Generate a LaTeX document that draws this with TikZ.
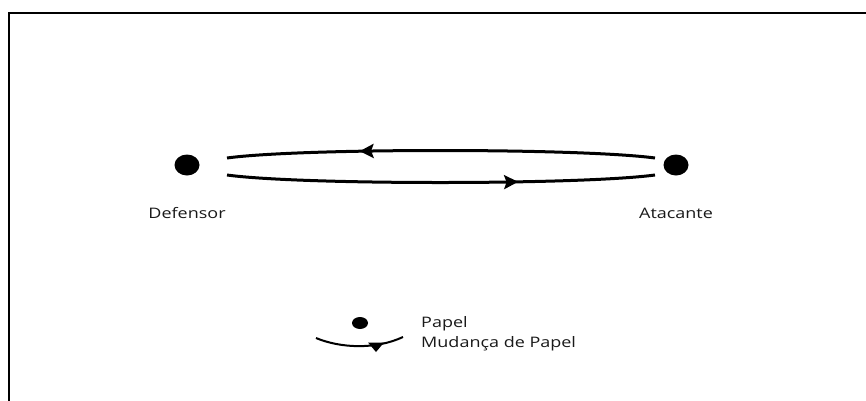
\documentclass[tikz,border=0pt]{standalone}
\usepackage{fontspec}
\setmainfont{Open Sans}[FakeStretch=1.24]
\usetikzlibrary{arrows.meta,decorations.markings,shapes.geometric}
\tikzset{
  role/.style={ellipse,fill=black,inner sep=0pt,minimum width=25pt,minimum height=21pt},
  smallrole/.style={ellipse,fill=black,inner sep=0pt,minimum width=16pt,minimum height=12pt},
  lbl/.style={font=\fontsize{14.5}{16}\selectfont,inner sep=0pt,text=black!90},
  path/.style={line width=3pt,black},
  midarrow/.style={postaction={decorate},decoration={markings,
     mark=at position #1 with {\arrow{Stealth[length=14pt,width=14pt,inset=2.5pt]}}}},
  frame/.style={line width=2.6pt,black}
}
\begin{document}
\begin{tikzpicture}[x=1pt,y=-1pt]
\useasboundingbox (0,0) rectangle (866,400);
\draw[frame] (9,401) -- (9,13) -- (867,13);
% roles
\node[role] (def) at (187,165) {};
\node[role] (atk) at (676,165) {};
\node[lbl,anchor=center] (deflbl) at (187,213) {Defensor};
\node[lbl,anchor=center] (atklbl) at (676,213) {Atacante};
% connectors
\coordinate (atkT) at ([xshift=-21pt,yshift=7pt]atk.center);
\coordinate (defT) at ([xshift=40pt,yshift=7pt]def.center);
\coordinate (defB) at ([xshift=40pt,yshift=-10pt]def.center);
\coordinate (atkB) at ([xshift=-21pt,yshift=-10pt]atk.center);
\draw[path,midarrow=0.69] (atkT) .. controls (580,148) and (300,148) .. (defT);
\draw[path,midarrow=0.68] (defB) .. controls (300,185) and (580,185) .. (atkB);
% legend
\node[smallrole] (leg) at (360,323) {};
\node[lbl,anchor=west] (papel) at (421,324) {Papel};
\node[lbl,anchor=west] (mud) at (421,344) {Mudança de Papel};
\coordinate (lA) at (316,338);
\coordinate (lB) at (403,337);
\draw[line width=2pt] (lA) .. controls (340,348) and (375,350) .. (lB);
\fill (368,342.5) -- (384,342.5) -- (376,352) -- cycle;
\end{tikzpicture}
\end{document}
